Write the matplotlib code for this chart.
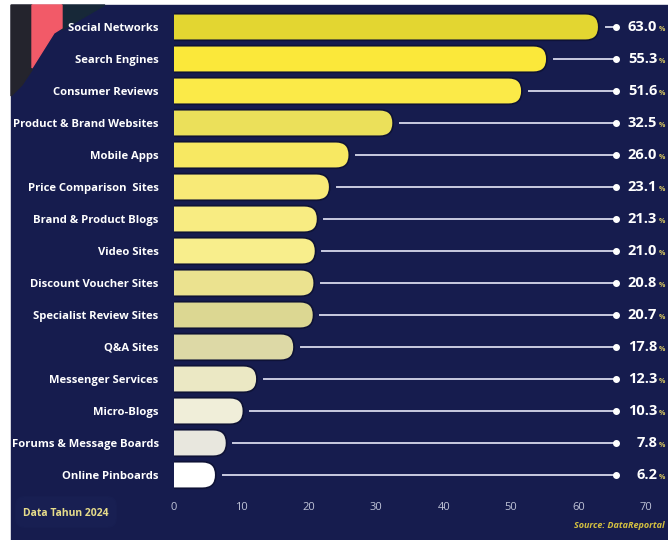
import matplotlib
from matplotlib import pyplot as plt
from matplotlib.patches import FancyBboxPatch, Polygon, Rectangle
import numpy as np

matplotlib.rcParams["font.family"] = ["Open Sans", "DejaVu Sans"]

categories = [
    "Social Networks",
    "Search Engines",
    "Consumer Reviews",
    "Product & Brand Websites",
    "Mobile Apps",
    "Price Comparison  Sites",
    "Brand & Product Blogs",
    "Video Sites",
    "Discount Voucher Sites",
    "Specialist Review Sites",
    "Q&A Sites",
    "Messenger Services",
    "Micro-Blogs",
    "Forums & Message Boards",
    "Online Pinboards",
]
values = [63.0, 55.3, 51.6, 32.5, 26.0, 23.1, 21.3, 21.0, 20.8, 20.7, 17.8, 12.3, 10.3, 7.8, 6.2]
bar_colors = [
    "#e3d631", "#fbe83a", "#fbea48", "#ebe05a", "#f7e862",
    "#f8ea77", "#f8ec82", "#f8ee8c", "#ebe28f", "#dcd792",
    "#ddd9a6", "#ebe8c4", "#f0eed9", "#e8e7de", "#ffffff",
]
xticks = [0, 10, 20, 30, 40, 50, 60, 70]

navy = "#161c4e"

fig = plt.figure(figsize=(6.68, 5.4), dpi=100, facecolor="white")

# background layer in pixel coordinates
bg = fig.add_axes([0, 0, 1, 1])
bg.set_xlim(0, 668)
bg.set_ylim(540, 0)
bg.axis("off")
bg.add_patch(Rectangle((11, 5), 657, 535, color=navy))
bg.add_patch(Polygon([(11, 5), (32, 5), (32, 70), (22, 85), (11, 96)], color="#24242d"))
bg.add_patch(Polygon([(62, 5), (105, 5), (62, 30)], color="#172838"))
bg.add_patch(Polygon([(32, 5), (62, 5), (62, 28), (54, 33), (32, 68)], color="#f25a68"))
bg.add_patch(FancyBboxPatch((16, 497), 100, 30, boxstyle="round,pad=0,rounding_size=8",
                            color="#181f52"))
bg.text(66, 513, "Data Tahun 2024", color="#e6dc8a", fontsize=7.5, fontweight="bold",
        ha="center", va="center")
bg.text(665, 525, "Source: DataReportal", color="#d4c040", fontsize=6.5, fontweight="bold",
        style="italic", ha="right", va="center")

# main chart
ax = fig.add_axes([174 / 668, 1 - 491 / 540, 472 / 668, 480 / 540])
ax.patch.set_alpha(0)
y = np.arange(len(categories))
bars = ax.barh(y, values, height=0.83, color=bar_colors)
ax.set_xlim(0, 70)
ax.set_ylim(len(categories) - 0.5, -0.5)

px_x = 472 / 70
px_y = 480 / 15
r = 0.83 * px_y / 2 / px_x
for b, c in zip(bars, bar_colors):
    b.set_visible(False)
    p = FancyBboxPatch((-3, b.get_y()), b.get_width() + 3, b.get_height(),
                       boxstyle="round,pad=0,rounding_size={}".format(r),
                       mutation_aspect=px_x / px_y,
                       facecolor=c, edgecolor="#0e1236", linewidth=1.2)
    ax.add_patch(p)

dot_x = 65.6
for yi, v in zip(y, values):
    ax.plot([v + 1.0, dot_x], [yi, yi], color="#c9cbe0", linewidth=1.4, clip_on=False)
    ax.plot([dot_x], [yi], "o", color="white", markersize=4, clip_on=False)
    ax.text(71.65, yi, "{:.1f}".format(v), color="white", fontsize=10.5, fontweight="bold",
            ha="right", va="center", clip_on=False)
    ax.text(71.85, yi + 0.08, "%", color="#d8c860", fontsize=5, fontweight="bold",
            ha="left", va="center", clip_on=False)

ax.set_yticks(y)
ax.set_yticklabels(categories, color="white", fontsize=8.1, fontweight="bold")
ax.set_xticks(xticks)
ax.set_xticklabels([str(t) for t in xticks], color="#c0c4d8", fontsize=8)
ax.tick_params(length=0, pad=8)
ax.tick_params(axis="y", pad=11)
for s in ax.spines.values():
    s.set_visible(False)

fig.savefig("out.png", dpi=100, facecolor="white")
